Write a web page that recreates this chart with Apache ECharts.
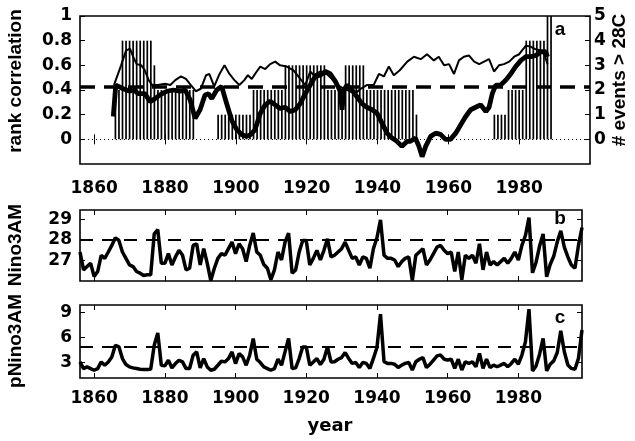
<!DOCTYPE html>
<html>
<head>
<meta charset="utf-8">
<script src="https://cdn.jsdelivr.net/npm/echarts@6/dist/echarts.min.js"></script>
<style>html,body{margin:0;padding:0;background:#fff}#c{width:635px;height:441px}</style>
</head>
<body>
<div id="c"></div>
<script>
// ---------- data ----------
const xTickYears = [1860, 1880, 1900, 1920, 1940, 1960, 1980];
const corrTicks = [0, 0.2, 0.4, 0.6, 0.8, 1];
const eventTicks = [0, 1, 2, 3, 4, 5];
const ninoTicks = [27, 28, 29];
const pninoTicks = [3, 6, 9];

// number of events > 28C per year (right axis), years 1866..1989
const eventStartYear = 1866;
const eventCounts = [
  2, 2,
  4, 4, 4, 4, 4, 4, 4, 4, 4,
  3,
  2, 2, 2, 2, 2, 2, 2, 2, 2, 2, 2,
  0, 0, 0, 0, 0, 0,
  1, 1, 1, 1, 1, 1, 1, 1, 1, 1,
  2, 2, 2, 2, 2, 2, 2, 2, 2,
  3, 3, 3, 3, 3, 3, 3, 3, 3, 3, 3, 3,
  2, 2, 2, 2, 2,
  3, 3, 3, 3, 3, 3,
  2, 2, 2, 2, 2, 2, 2, 2, 2, 2, 2, 2, 2, 2,
  1,
  0, 0, 0, 0, 0, 0, 0, 0, 0, 0, 0, 0, 0, 0, 0, 0, 0, 0, 0, 0, 0,
  1, 1, 1, 1,
  2, 2, 2, 2, 2,
  4, 4, 4, 4, 4, 4,
  5, 5
];

// thick rank-correlation curve (left axis)
const thickYears = [1865.4,1866.1,1868.2,1870.1,1871.0,1872.4,1874.3,1875.8,1877.2,1878.6,1880.5,1882.3,1884.2,1885.7,1887.1,1888.5,1889.9,1891.3,1892.3,1893.2,1894.6,1896.0,1897.4,1898.9,1900.3,1901.7,1903.1,1904.1,1905.4,1906.9,1908.3,1909.7,1911.1,1912.5,1913.9,1915.4,1916.8,1918.2,1919.6,1921.0,1922.4,1923.8,1925.3,1926.7,1928.1,1929.5,1930.0,1930.5,1931.4,1932.8,1934.2,1935.6,1937.0,1938.5,1939.9,1941.3,1942.7,1944.1,1945.5,1946.9,1948.4,1949.3,1950.7,1951.7,1952.6,1953.6,1955.0,1956.4,1957.8,1959.2,1960.6,1962.1,1963.5,1964.9,1966.3,1967.7,1969.1,1970.6,1971.5,1972.4,1973.4,1974.8,1976.2,1977.6,1979.0,1980.5,1981.9,1983.3,1984.7,1986.1,1987.5,1988.0];
const thickCorr  = [0.185,0.44,0.41,0.39,0.41,0.37,0.37,0.306,0.33,0.36,0.39,0.40,0.39,0.40,0.32,0.17,0.24,0.36,0.37,0.33,0.40,0.43,0.29,0.15,0.077,0.037,0.024,0.037,0.077,0.21,0.28,0.31,0.28,0.25,0.26,0.225,0.24,0.29,0.37,0.44,0.51,0.52,0.55,0.53,0.47,0.39,0.24,0.40,0.44,0.40,0.345,0.29,0.26,0.24,0.21,0.13,0.05,0.01,-0.016,-0.057,-0.016,-0.016,0.01,-0.057,-0.14,-0.057,0.024,0.05,0.04,0.0,0.0,0.05,0.118,0.185,0.24,0.26,0.28,0.225,0.26,0.37,0.44,0.44,0.48,0.53,0.59,0.64,0.67,0.67,0.68,0.71,0.71,0.67];

// thin rank-correlation curve (left axis)
const thinYears = [1865.6,1867.6,1869.0,1870.1,1871.0,1872.0,1873.3,1874.3,1875.4,1876.4,1878.0,1880.0,1881.5,1882.9,1884.5,1885.9,1887.3,1888.7,1890.1,1891.6,1892.5,1893.9,1895.4,1896.8,1898.2,1899.6,1901.0,1902.4,1903.4,1904.5,1905.9,1906.9,1908.3,1909.7,1911.1,1912.5,1914.4,1916.3,1918.2,1919.6,1921.0,1922.0,1923.8,1925.7,1927.1,1928.6,1930.0,1931.5,1933.7,1935.2,1937.0,1938.9,1940.4,1941.8,1943.2,1944.6,1946.3,1948.4,1950.3,1952.2,1954.0,1955.9,1957.3,1958.8,1960.2,1961.6,1963.0,1964.4,1965.8,1967.3,1968.7,1970.1,1971.5,1972.9,1974.3,1975.7,1977.2,1978.6,1980.0,1981.9,1983.3,1984.7,1986.1,1987.1,1988.0];
const thinCorr  = [0.44,0.60,0.72,0.735,0.67,0.61,0.60,0.56,0.48,0.44,0.44,0.45,0.44,0.48,0.51,0.49,0.44,0.39,0.41,0.52,0.53,0.43,0.53,0.60,0.53,0.48,0.44,0.48,0.52,0.49,0.55,0.59,0.57,0.61,0.63,0.60,0.59,0.56,0.49,0.44,0.55,0.52,0.55,0.53,0.49,0.44,0.42,0.40,0.37,0.41,0.44,0.44,0.53,0.51,0.59,0.52,0.56,0.63,0.67,0.65,0.69,0.64,0.67,0.60,0.61,0.53,0.64,0.67,0.68,0.63,0.61,0.63,0.65,0.55,0.60,0.61,0.63,0.67,0.69,0.76,0.75,0.73,0.72,0.69,0.61];

const corrThreshold = 0.43;

// Nino3 AM, yearly 1856..1998
const ninoStartYear = 1856;
const nino3AM = [
  27.41,26.54,26.70,26.86,                                    // 1856-1859
  26.22,26.46,27.25,27.10,27.41,27.73,28.10,27.97,27.41,27.10, // 1860s
  26.78,26.70,26.46,26.38,26.27,26.30,26.30,28.29,28.49,26.86, // 1870s
  26.86,27.33,26.78,27.17,27.49,27.25,26.54,26.62,27.73,27.81, // 1880s
  26.78,27.57,26.86,26.02,26.62,27.10,27.33,27.25,27.57,27.89, // 1890s
  27.33,27.81,27.57,26.94,27.73,28.33,27.41,27.25,26.80,26.62, // 1900s
  26.06,26.54,27.41,27.02,27.89,28.33,26.38,26.54,27.41,27.97, // 1910s
  27.97,26.78,27.10,27.49,27.02,27.49,28.05,27.17,27.25,27.41, // 1920s
  27.57,27.89,27.49,27.10,27.17,26.78,27.17,27.10,26.62,27.57, // 1930s
  28.10,28.97,27.25,27.10,27.10,27.02,26.70,26.94,27.10,27.17, // 1940s
  26.02,27.25,27.41,27.57,26.78,27.02,27.33,27.65,27.73,27.49, // 1950s
  27.33,27.41,26.46,27.41,26.06,27.25,27.10,27.25,26.86,27.81, // 1960s
  26.54,27.41,26.78,26.94,26.78,26.94,27.10,26.86,27.10,27.41, // 1970s
  27.02,27.73,28.21,29.08,26.40,26.90,27.70,28.29,26.20,26.80, // 1980s
  27.20,27.90,28.44,27.65,27.17,26.78,26.62,27.73,28.60        // 1990-1998
];
const ninoThreshold = 28;

// pNino3 AM, yearly 1856..1998
const pNino3AM = [
  3.08,2.28,2.48,2.28,
  2.08,2.28,3.08,2.68,3.08,3.68,5.08,4.88,3.48,2.76,
  2.48,2.36,2.28,2.20,2.16,2.16,2.20,5.08,6.56,2.68,
  2.60,3.28,2.36,2.88,3.28,3.08,2.28,2.28,3.88,4.28,
  2.36,3.48,2.48,2.08,2.20,2.68,3.16,3.08,3.48,4.28,
  2.88,4.08,3.68,2.68,3.88,5.88,3.40,3.00,2.48,2.28,
  2.08,2.28,3.40,2.68,4.28,5.88,2.28,2.36,3.48,4.88,
  4.88,2.68,3.08,3.48,2.76,3.40,4.88,3.08,3.10,3.40,
  3.60,4.20,3.50,2.90,3.00,2.40,3.00,2.90,2.30,3.50,
  4.80,8.80,3.10,2.90,2.90,2.80,2.40,2.70,2.90,3.00,
  2.10,3.10,3.40,3.60,2.40,2.80,3.30,3.80,3.90,3.40,
  3.30,3.40,2.30,3.40,2.10,3.10,2.90,3.10,2.50,4.10,
  2.30,3.40,2.40,2.70,2.50,2.70,2.90,2.50,2.90,3.40,
  2.80,3.90,5.50,9.40,2.00,2.60,4.00,5.90,2.00,2.80,
  3.20,4.20,6.80,4.30,2.70,2.30,2.20,3.50,6.90
];
const pninoThreshold = 4.88;

// ---------- chart ----------
const TICK_FONT = {color:'#000', fontFamily:'DejaVu Sans', fontWeight:'bold', fontSize:17};
const NAME_FONT = '"Liberation Sans", Arial, sans-serif';

function xAx(gridIndex, position, showLabels, max, margin) {
  return {
    type:'value', gridIndex, position, min:1856, max,
    axisLine:{show:false}, splitLine:{show:false},
    axisTick:{show:true, inside:true, length:5, customValues:xTickYears, lineStyle:{color:'#000', width:1}},
    axisLabel:Object.assign({show:showLabels, customValues:xTickYears, margin:margin||8,
      formatter: v => String(Math.round(v))}, TICK_FONT)
  };
}
function yAx(gridIndex, position, min, max, ticks, showLabels, margin) {
  return {
    type:'value', gridIndex, position, min, max,
    axisLine:{show:false}, splitLine:{show:false},
    axisTick:{show:true, inside:true, length:5, customValues:ticks, lineStyle:{color:'#000', width:1}},
    axisLabel:Object.assign({show:showLabels, customValues:ticks, margin:margin||8,
      formatter: v => String(Math.round(v*10)/10)}, TICK_FONT)
  };
}
const pairs = (xs, ys) => xs.map((x, i) => [x, ys[i]]);
const yearly = (start, ys) => ys.map((v, i) => [start + i, v]);

const hline = (v, width, dash) => ({
  silent:true, symbol:['none','none'], label:{show:false}, animation:false,
  data:[{yAxis:v, lineStyle:{color:'#000', width, type:dash}}]
});

const chart = echarts.init(document.getElementById('c'), null, {renderer:'canvas'});
chart.setOption({
  animation:false,
  backgroundColor:'#fff',
  grid:[
    {left:80, top:16, width:510, height:148, show:true, borderColor:'#000', borderWidth:1.6, backgroundColor:'transparent'},
    {left:80, top:210, width:502, height:71, show:true, borderColor:'#000', borderWidth:1.6, backgroundColor:'transparent'},
    {left:80, top:305, width:502, height:73, show:true, borderColor:'#000', borderWidth:1.6, backgroundColor:'transparent'}
  ],
  xAxis:[
    xAx(0,'bottom',true,2000,16),
    xAx(0,'top',false,2000),
    xAx(1,'bottom',false,1998),
    xAx(1,'top',false,1998),
    xAx(2,'bottom',true,1998,12),
    xAx(2,'top',false,1998)
  ],
  yAxis:[
    yAx(0,'left',-0.2,1,corrTicks,true,8),
    yAx(0,'right',-1,5,eventTicks,true,4),
    yAx(1,'left',26,29.45,ninoTicks,true,8),
    yAx(1,'right',26,29.45,ninoTicks,false),
    yAx(2,'left',1.15,9.9,pninoTicks,true,8),
    yAx(2,'right',1.15,9.9,pninoTicks,false)
  ],
  series:[
    {type:'bar', xAxisIndex:0, yAxisIndex:1, barWidth:1.7, z:1,
     itemStyle:{color:'#000'},
     data: eventCounts.map((c, i) => [eventStartYear + i, c])},
    {type:'line', xAxisIndex:0, yAxisIndex:0, showSymbol:false, z:3,
     lineStyle:{color:'#000', width:2}, data:pairs(thinYears, thinCorr),
     markLine:{silent:true, symbol:['none','none'], label:{show:false}, animation:false,
       data:[{yAxis:0, lineStyle:{color:'#000', width:1, type:[1,3]}},
             {yAxis:corrThreshold, lineStyle:{color:'#000', width:3.5, type:[15,9]}}]}},
    {type:'line', xAxisIndex:0, yAxisIndex:0, showSymbol:false, z:4,
     lineStyle:{color:'#000', width:4.8}, data:pairs(thickYears, thickCorr)},
    {type:'line', xAxisIndex:2, yAxisIndex:2, showSymbol:false, z:3,
     lineStyle:{color:'#000', width:3.5}, data:yearly(ninoStartYear, nino3AM),
     markLine:hline(ninoThreshold, 2, [13,9])},
    {type:'line', xAxisIndex:4, yAxisIndex:4, showSymbol:false, z:3,
     lineStyle:{color:'#000', width:3.5}, data:yearly(ninoStartYear, pNino3AM),
     markLine:hline(pninoThreshold, 2, [13,9])}
  ],
  graphic:[
    {type:'text', x:16, y:81, rotation:Math.PI/2, style:{text:'rank correlation', font:'bold 19px '+NAME_FONT, fill:'#000', align:'center', verticalAlign:'middle'}},
    {type:'text', x:620, y:80, rotation:Math.PI/2, style:{text:'# events > 28C', font:'bold 19px '+NAME_FONT, fill:'#000', align:'center', verticalAlign:'middle'}},
    {type:'text', x:16, y:245, rotation:Math.PI/2, style:{text:'Nino3AM', font:'bold 19px '+NAME_FONT, fill:'#000', align:'center', verticalAlign:'middle'}},
    {type:'text', x:16, y:341, rotation:Math.PI/2, style:{text:'pNino3AM', font:'bold 19px '+NAME_FONT, fill:'#000', align:'center', verticalAlign:'middle'}},
    {type:'text', x:330, y:426, style:{text:'year', font:'bold 18px "DejaVu Sans"', fill:'#000', align:'center', verticalAlign:'middle'}},
    {type:'text', x:560, y:30, style:{text:'a', font:'bold 19px '+NAME_FONT, fill:'#000', align:'center', verticalAlign:'middle'}},
    {type:'text', x:560, y:219, style:{text:'b', font:'bold 19px '+NAME_FONT, fill:'#000', align:'center', verticalAlign:'middle'}},
    {type:'text', x:560, y:318, style:{text:'c', font:'bold 19px '+NAME_FONT, fill:'#000', align:'center', verticalAlign:'middle'}}
  ]
});
</script>
</body>
</html>
